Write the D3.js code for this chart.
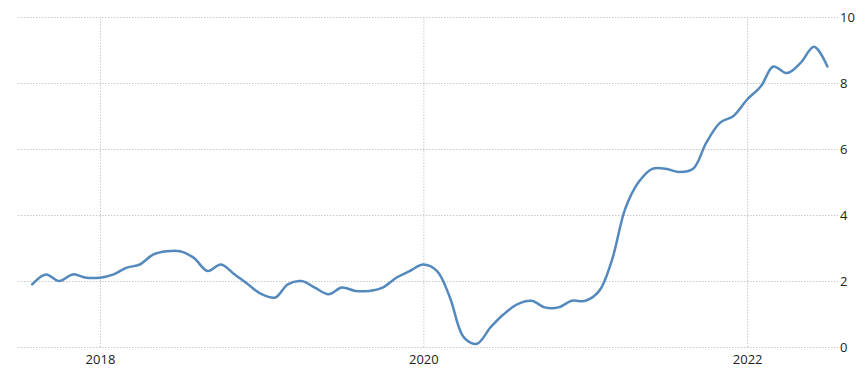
<!DOCTYPE html>
<html>
<head>
<meta charset="utf-8">
<script src="https://cdn.jsdelivr.net/npm/d3@7"></script>
<style>
  body { margin: 0; background: #fff; }
  .grid line { stroke: #c8c8c8; stroke-dasharray: 1.5,1.5; }
  .grid path { display: none; }
  .axis text { font-family: "Open Sans", "Noto Sans", sans-serif; font-size: 13px; fill: #222; }
  .axis path, .axis line { display: none; }
</style>
</head>
<body>
<div id="chart"></div>
<script>
// monthly readings, Aug 2017 .. Jul 2022
const startMonth = [2017, 7];
const values = [
  1.9, 2.2, 2.0, 2.2, 2.1,
  2.1, 2.2, 2.4, 2.5, 2.8, 2.9, 2.9, 2.7, 2.3, 2.5, 2.2, 1.9,
  1.6, 1.5, 1.9, 2.0, 1.8, 1.6, 1.8, 1.7, 1.7, 1.8, 2.1, 2.3,
  2.5, 2.3, 1.5, 0.3, 0.1, 0.6, 1.0, 1.3, 1.4, 1.2, 1.2, 1.4,
  1.4, 1.7, 2.6, 4.2, 5.0, 5.4, 5.4, 5.3, 5.4, 6.2, 6.8, 7.0,
  7.5, 7.9, 8.5, 8.3, 8.6, 9.1, 8.5
];
const yTicks = [0, 2, 4, 6, 8, 10];
const xTickYears = [2018, 2020, 2022];

const width = 868, height = 387;
const margin = {top: 17, right: 30, bottom: 40, left: 18};

const data = values.map((v, i) => ({
  date: new Date(startMonth[0], startMonth[1] + i, 1),
  value: v
}));

const svg = d3.select('#chart').append('svg')
    .attr('width', width)
    .attr('height', height);

const x = d3.scaleTime()
    .domain([new Date(2017, 5, 30), new Date(2022, 6, 25)])
    .range([margin.left, width - margin.right]);

const y = d3.scaleLinear()
    .domain([0, 10])
    .range([height - margin.bottom, margin.top]);

// horizontal grid
svg.append('g')
    .attr('class', 'grid')
    .attr('transform', `translate(${margin.left},0)`)
    .call(d3.axisRight(y).tickValues(yTicks)
      .tickSize(width - margin.right - margin.left).tickFormat(''));

// vertical grid
const yearDates = xTickYears.map(yr => new Date(yr, 0, 1));
svg.append('g')
    .attr('class', 'grid')
    .attr('transform', `translate(0,${height - margin.bottom})`)
    .call(d3.axisTop(x).tickValues(yearDates)
      .tickSize(height - margin.bottom - margin.top).tickFormat(''));

// x labels
svg.append('g')
    .attr('class', 'axis')
    .attr('transform', `translate(0,${height - margin.bottom})`)
    .call(d3.axisBottom(x).tickValues(yearDates).tickSize(0).tickPadding(8)
      .tickFormat(d3.timeFormat('%Y')));

// y labels on the right
svg.append('g')
    .attr('class', 'axis')
    .attr('transform', `translate(${width - margin.right},0)`)
    .call(d3.axisRight(y).tickValues(yTicks).tickSize(0).tickPadding(2));

const line = d3.line()
    .x(d => x(d.date))
    .y(d => y(d.value))
    .curve(d3.curveCatmullRom.alpha(0.5));

svg.append('path')
    .datum(data)
    .attr('fill', 'none')
    .attr('stroke', '#5389bc')
    .attr('stroke-width', 2.5)
    .attr('stroke-linejoin', 'round')
    .attr('stroke-linecap', 'round')
    .attr('d', line);
</script>
</body>
</html>
